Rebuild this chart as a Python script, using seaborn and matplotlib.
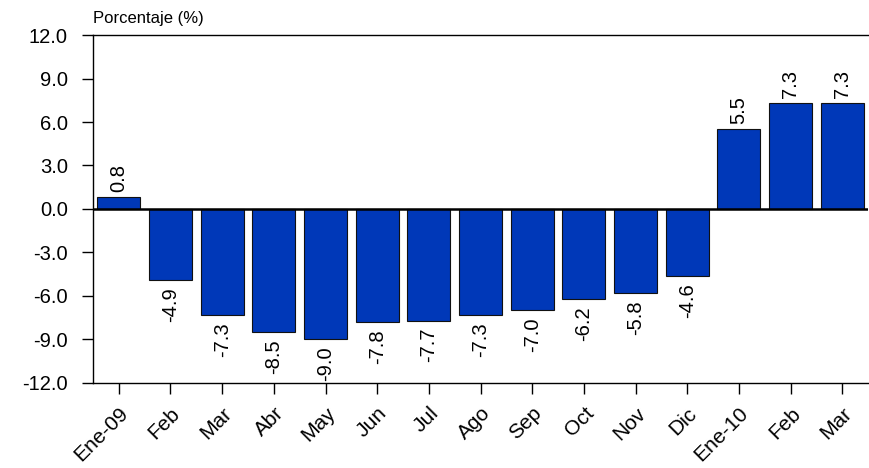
import numpy as np
import pandas as pd
import matplotlib.pyplot as plt
import seaborn as sns

sns.set_theme(style="white")
plt.rcParams['font.family'] = ['Liberation Sans', 'DejaVu Sans']
plt.rcParams['text.color'] = 'black'

# data
meses = ["Ene-09", "Feb", "Mar", "Abr", "May", "Jun", "Jul", "Ago", "Sep",
         "Oct", "Nov", "Dic", "Ene-10", "Feb ", "Mar "]
valores = [0.8, -4.9, -7.3, -8.5, -9.0, -7.8, -7.7, -7.3, -7.0,
           -6.2, -5.8, -4.6, 5.5, 7.3, 7.3]
yticks = [-12, -9, -6, -3, 0, 3, 6, 9, 12]

df = pd.DataFrame({"mes": meses, "valor": valores})

fig = plt.figure(figsize=(8.69, 4.68), dpi=100)
ax = fig.add_axes([0.107, 0.182, 0.892, 0.743])

sns.barplot(data=df, x="mes", y="valor", color="#0038B8", saturation=1,
            width=0.83, edgecolor="#111111", linewidth=0.8, ax=ax)

ax.axhline(0, color="black", linewidth=1.8, zorder=3)

# value labels, rotated
for i, v in enumerate(valores):
    off = 0.35 if v > 0 else -0.5
    ax.text(i, v + off, f"{v:.1f}", rotation=90, ha="center",
            va="bottom" if v > 0 else "top", fontsize=14.5, color="black")

ax.set_ylim(-12, 12)
ax.set_xlim(-0.5, len(meses) - 0.5)
ax.set_yticks(yticks)
ax.set_yticklabels([f"{t:.1f}" for t in yticks], fontsize=14.5)
ax.set_xticks(range(len(meses)))
ax.set_xticklabels([m.strip() for m in meses], rotation=45, ha="right",
                   rotation_mode="anchor", fontsize=15)
ax.tick_params(axis="y", direction="out", length=8, width=1, color="black",
               left=True, pad=10, labelcolor="black")
ax.tick_params(axis="x", direction="out", length=8, width=1, color="black",
               bottom=True, pad=7, labelcolor="black")
ax.set_xlabel("")
ax.set_ylabel("")

for s in ["left", "top", "bottom"]:
    ax.spines[s].set_color("black")
    ax.spines[s].set_linewidth(1)
ax.spines["right"].set_visible(False)

fig.text(0.107, 0.945, "Porcentaje (%)", fontsize=12, ha="left", va="bottom")

fig.savefig("out.png", dpi=100)
